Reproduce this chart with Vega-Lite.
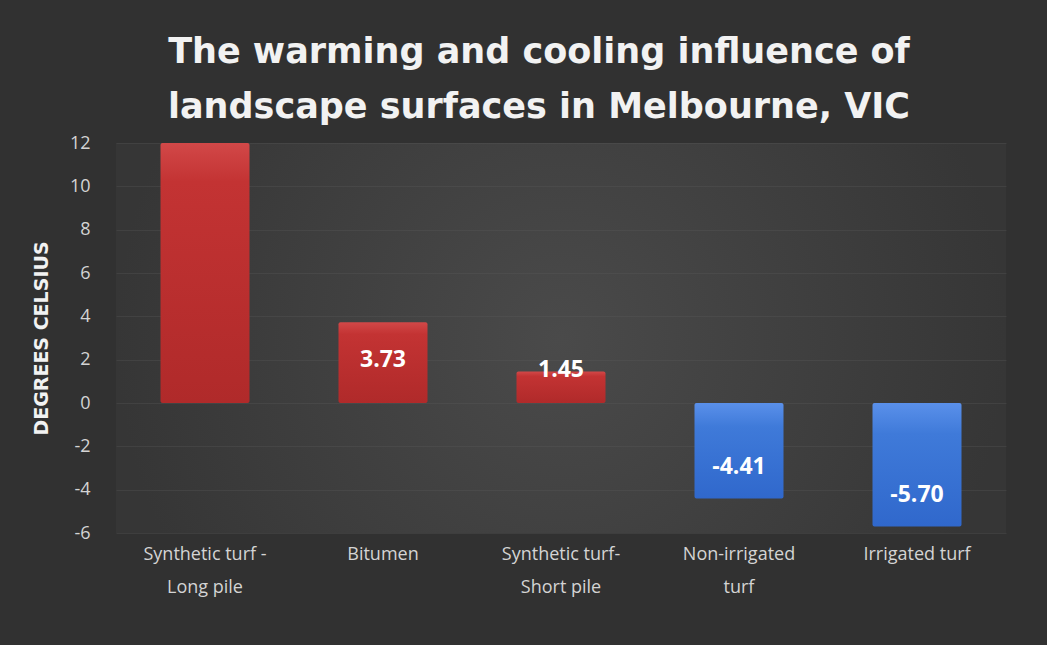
{
  "$schema": "https://vega.github.io/schema/vega-lite/v6.json",
  "autosize": {"type": "none"},
  "width": 890,
  "height": 390,
  "padding": {"left": 116, "top": 143, "right": 41, "bottom": 112},
  "background": "#313131",
  "config": {
    "view": {
      "stroke": null,
      "fill": {"gradient": "radial", "stops": [{"offset": 0, "color": "#4a4a4a"}, {"offset": 1, "color": "#363636"}]}
    },
    "font": "Open Sans"
  },
  "title": {
    "text": ["The warming and cooling influence of", "landscape surfaces in Melbourne, VIC"],
    "font": "DejaVu Sans",
    "fontSize": 35,
    "fontWeight": "bold",
    "color": "#f2f2f2",
    "lineHeight": 55,
    "anchor": "middle",
    "dx": -22,
    "offset": 9
  },
  "data": {
    "values": [
      {"category": "Synthetic turf -|Long pile", "value": 12, "label": "", "effect": "warming"},
      {"category": "Bitumen", "value": 3.73, "label": "3.73", "effect": "warming"},
      {"category": "Synthetic turf-|Short pile", "value": 1.45, "label": "1.45", "effect": "warming"},
      {"category": "Non-irrigated|turf", "value": -4.41, "label": "-4.41", "effect": "cooling"},
      {"category": "Irrigated turf", "value": -5.7, "label": "-5.70", "effect": "cooling"}
    ]
  },
  "encoding": {
    "x": {
      "field": "category",
      "type": "nominal",
      "sort": null,
      "scale": {"paddingInner": 0.5, "paddingOuter": 0.25},
      "axis": {
        "title": null,
        "labelAngle": 0,
        "labelExpr": "split(datum.label, '|')",
        "labelFont": "Open Sans",
        "labelFontSize": 18,
        "labelColor": "#d4d4d4",
        "labelLineHeight": 33,
        "labelBaseline": "top",
        "labelPadding": 12,
        "labelLimit": 0,
        "domain": false,
        "ticks": false,
        "grid": false
      }
    }
  },
  "layer": [
    {
      "transform": [{"filter": "datum.effect == 'warming'"}],
      "mark": {
        "type": "bar",
        "cornerRadius": 2,
        "fill": {"gradient": "linear", "x1": 0, "y1": 0, "x2": 0, "y2": 1, "stops": [{"offset": 0, "color": "#d24848"}, {"offset": 0.15, "color": "#c33333"}, {"offset": 1, "color": "#b02a2a"}]}
      },
      "encoding": {
        "y": {
          "field": "value",
          "type": "quantitative",
          "scale": {"domain": [-6, 12], "nice": false},
          "axis": {
            "title": "DEGREES CELSIUS",
            "titleFont": "DejaVu Sans",
            "titleFontSize": 19,
            "titleFontWeight": "bold",
            "titleColor": "#f2f2f2",
            "titlePadding": 18,
            "values": [-6, -4, -2, 0, 2, 4, 6, 8, 10, 12],
            "labelExpr": "toString(datum.value)",
            "labelFont": "Open Sans",
            "labelFontSize": 18,
            "labelColor": "#d4d4d4",
            "labelPadding": 26,
            "domain": false,
            "ticks": false,
            "gridColor": "#5c5c5c",
            "gridOpacity": 0.3,
            "gridWidth": 1
          }
        },
        "y2": {"datum": 0}
      }
    },
    {
      "transform": [{"filter": "datum.effect == 'cooling'"}],
      "mark": {
        "type": "bar",
        "cornerRadius": 2,
        "fill": {"gradient": "linear", "x1": 0, "y1": 0, "x2": 0, "y2": 1, "stops": [{"offset": 0, "color": "#5a90ea"}, {"offset": 0.25, "color": "#3f7ad9"}, {"offset": 1, "color": "#3068cc"}]}
      },
      "encoding": {
        "y": {"field": "value", "type": "quantitative"},
        "y2": {"datum": 0}
      }
    },
    {
      "mark": {"type": "rule", "color": "#cfcfcf", "strokeWidth": 3},
      "encoding": {"y": {"datum": 0}}
    },
    {
      "transform": [{"filter": "datum.value > 2 && datum.label != ''"}],
      "mark": {"type": "text", "color": "#ffffff", "fontSize": 23, "fontWeight": "bold", "font": "Open Sans", "baseline": "middle", "dy": 38},
      "encoding": {"y": {"field": "value", "type": "quantitative"}, "text": {"field": "label"}}
    },
    {
      "transform": [{"filter": "datum.value > 0 && datum.value <= 2"}],
      "mark": {"type": "text", "color": "#ffffff", "fontSize": 23, "fontWeight": "bold", "font": "Open Sans", "baseline": "middle", "dy": -2},
      "encoding": {"y": {"field": "value", "type": "quantitative"}, "text": {"field": "label"}}
    },
    {
      "transform": [{"filter": "datum.value < 0"}],
      "mark": {"type": "text", "color": "#ffffff", "fontSize": 23, "fontWeight": "bold", "font": "Open Sans", "baseline": "middle", "dy": -32},
      "encoding": {"y": {"field": "value", "type": "quantitative"}, "text": {"field": "label"}}
    }
  ]
}
